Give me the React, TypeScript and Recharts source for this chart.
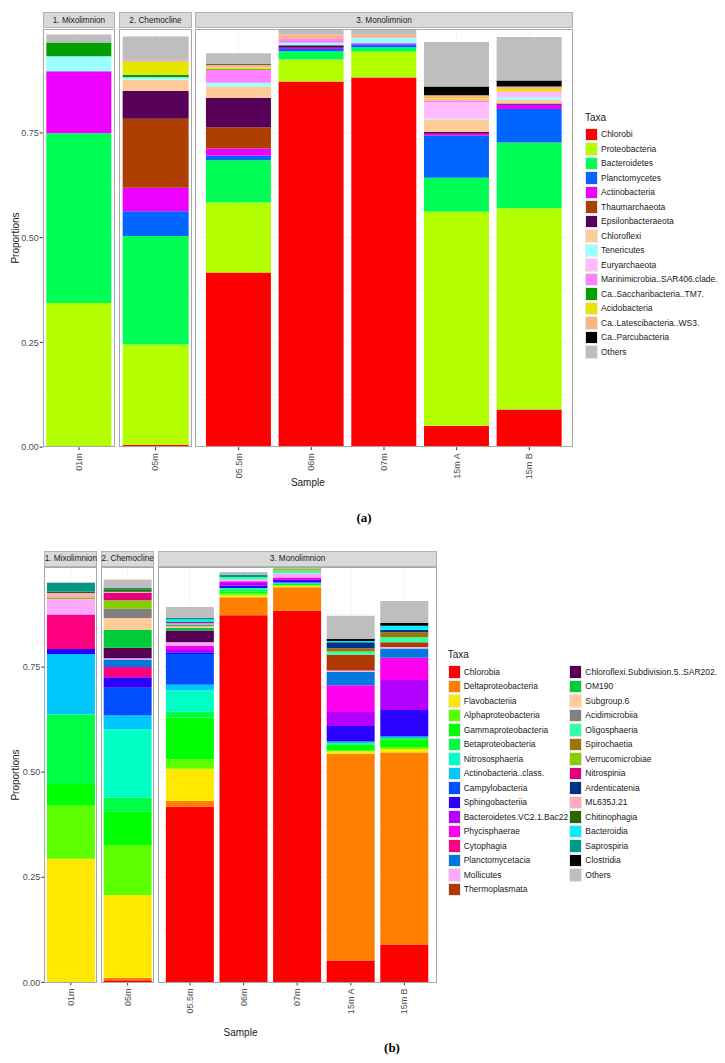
import React from 'react';
import { BarChart, Bar, XAxis, YAxis, CartesianGrid } from 'recharts';

const FONT = '"Liberation Sans", Arial, Helvetica, sans-serif';

const samples = ['01m', '05m', '05.5m', '06m', '07m', '15m A', '15m B'];
const zones = ['1. Mixolimnion', '2. Chemocline', '3. Monolimnion'];
const yTicks = [0, 0.25, 0.5, 0.75];
const gridValues = [0.125, 0.25, 0.375, 0.5, 0.625, 0.75, 0.875];

// ---------- (a) phylum level ----------
const taxaA = [
  'Chlorobi', 'Proteobacteria', 'Bacteroidetes', 'Planctomycetes', 'Actinobacteria',
  'Thaumarchaeota', 'Epsilonbacteraeota', 'Chloroflexi', 'Tenericutes', 'Euryarchaeota',
  'Marinimicrobia..SAR406.clade.', 'Ca..Saccharibacteria..TM7.', 'Acidobacteria',
  'Ca..Latescibacteria..WS3.', 'Ca..Parcubacteria', 'Others',
];
const colorsA = [
  '#FF0000', '#B3FF00', '#00FF55', '#0066FF', '#EE00FF',
  '#AE3F00', '#560058', '#FFCC99', '#99FFFF', '#FFBBFF',
  '#FF80FF', '#00A000', '#E6E600', '#FFB380', '#000000', '#BEBEBE',
];
// proportions per sample, in taxaA order
const a01m = [0, 0.344, 0.405, 0, 0.148, 0, 0, 0, 0.036, 0, 0, 0.033, 0, 0, 0, 0.019];
const a05m = [0.006, 0.239, 0.259, 0.059, 0.056, 0.165, 0.066, 0.027, 0.006, 0, 0, 0.006, 0.030, 0.003, 0, 0.058];
const a055m = [0.417, 0.167, 0.101, 0.011, 0.017, 0.050, 0.071, 0.027, 0.009, 0, 0.030, 0.002, 0.004, 0.006, 0.002, 0.026];
const a06m = [0.873, 0.052, 0.020, 0.005, 0.003, 0, 0.006, 0, 0.006, 0, 0.010, 0, 0, 0.009, 0, 0.014];
const a07m = [0.882, 0.062, 0.010, 0.007, 0.003, 0, 0, 0, 0.013, 0, 0, 0, 0, 0.007, 0, 0.014];
const a15mA = [0.051, 0.511, 0.081, 0.100, 0.005, 0, 0.004, 0.030, 0.002, 0.040, 0.004, 0, 0.004, 0.008, 0.021, 0.106];
const a15mB = [0.090, 0.480, 0.157, 0.080, 0.010, 0, 0.003, 0.009, 0.006, 0.012, 0.002, 0, 0.006, 0.006, 0.014, 0.104];

// ---------- (b) class level ----------
const taxaB = [
  'Chlorobia', 'Deltaproteobacteria', 'Flavobacteriia', 'Alphaproteobacteria', 'Gammaproteobacteria',
  'Betaproteobacteria', 'Nitrososphaeria', 'Actinobacteria..class.', 'Campylobacteria', 'Sphingobacteriia',
  'Bacteroidetes.VC2.1.Bac22', 'Phycisphaerae', 'Cytophagia', 'Planctomycetacia', 'Mollicutes',
  'Thermoplasmata', 'Chloroflexi.Subdivision.5..SAR202.', 'OM190', 'Subgroup.6', 'Acidimicrobiia',
  'Oligosphaeria', 'Spirochaetia', 'Verrucomicrobiae', 'Nitrospinia', 'Ardenticatenia',
  'ML635J.21', 'Chitinophagia', 'Bacteroidia', 'Saprospiria', 'Clostridia', 'Others',
];
const colorsB = [
  '#FF0000', '#FF7F00', '#FFE800', '#5CFF00', '#00FF00',
  '#00FF44', '#00FFC4', '#00C8FF', '#0050FF', '#2A00FF',
  '#B400FF', '#FF00EE', '#FF0080', '#0078DC', '#FFA8FF',
  '#AE3A00', '#550055', '#00CC3A', '#FFCC99', '#808080',
  '#33FFAA', '#9B7700', '#88CC00', '#E0007F', '#003388',
  '#FFAAC0', '#2A6600', '#00F0FF', '#009988', '#000000', '#BEBEBE',
];
const b01m = [0, 0, 0.294, 0.126, 0.052, 0.165, 0, 0.144, 0, 0.012,
  0, 0, 0.082, 0, 0.037, 0, 0, 0, 0, 0,
  0, 0, 0.004, 0, 0, 0.010, 0.004, 0, 0.020, 0, 0.002];
const b05m = [0.005, 0.006, 0.197, 0.119, 0.079, 0.033, 0.163, 0.033, 0.066, 0.025,
  0, 0, 0.024, 0.018, 0.003, 0, 0.025, 0.042, 0.029, 0.022,
  0, 0, 0.020, 0.017, 0, 0.003, 0.006, 0, 0.003, 0, 0.020];
const b055m = [0.418, 0.014, 0.076, 0.023, 0.099, 0.014, 0.050, 0.014, 0.073, 0.004,
  0.008, 0.007, 0, 0, 0.009, 0, 0.028, 0.006, 0.004, 0.004,
  0.003, 0, 0, 0.003, 0, 0, 0, 0.006, 0.004, 0, 0.026];
const b06m = [0.873, 0.043, 0.005, 0.004, 0.005, 0.005, 0.003, 0, 0, 0.006,
  0.006, 0.004, 0, 0, 0.004, 0, 0, 0, 0, 0,
  0.006, 0, 0, 0, 0, 0, 0, 0, 0.006, 0, 0.006];
const b07m = [0.884, 0.056, 0.004, 0, 0.004, 0, 0, 0.003, 0, 0.006,
  0, 0.006, 0, 0, 0.010, 0, 0, 0, 0, 0,
  0.006, 0, 0.004, 0, 0, 0, 0, 0, 0, 0, 0.004];
const b15mA = [0.052, 0.492, 0.005, 0.004, 0.012, 0.004, 0, 0.004, 0, 0.037,
  0.033, 0.064, 0, 0.032, 0.003, 0.037, 0, 0, 0, 0,
  0.008, 0.008, 0, 0, 0.014, 0, 0, 0.003, 0, 0.005, 0.055];
const b15mB = [0.090, 0.457, 0.008, 0.005, 0.017, 0.004, 0, 0.004, 0, 0.063,
  0.071, 0.053, 0, 0.022, 0.004, 0.011, 0, 0, 0, 0,
  0.012, 0.012, 0, 0, 0.006, 0, 0, 0.009, 0, 0.007, 0.052];

const buildRows = (cols: number[][]) =>
  samples.map((s, i) => {
    const row: Record<string, string | number> = { sample: s };
    cols[i].forEach((v, j) => { row['k' + j] = v; });
    return row;
  });

const rowsA = buildRows([a01m, a05m, a055m, a06m, a07m, a15mA, a15mB]);
const rowsB = buildRows([b01m, b05m, b055m, b06m, b07m, b15mA, b15mB]);

type Panel = { left: number; right: number; pad: number; from: number; to: number };
type FigSpec = {
  stripTop: number; panelTop: number; panelBottom: number; yMax: number;
  panels: Panel[]; sampleY: number; caption: string; captionX: number; captionY: number;
  legendX: number[]; legendTitleY: number; legendRowY: number; legendSplit: number;
};

const figA: FigSpec = {
  stripTop: 12, panelTop: 28.5, panelBottom: 446.7, yMax: 0.998,
  panels: [
    { left: 42.7, right: 115.3, pad: 0, from: 0, to: 1 },
    { left: 119, right: 192, pad: 0, from: 1, to: 2 },
    { left: 195, right: 573, pad: 7.3, from: 2, to: 7 },
  ],
  sampleY: 483, caption: '(a)', captionX: 364, captionY: 518,
  legendX: [585], legendTitleY: 118, legendRowY: 127, legendSplit: 99,
};

const figB: FigSpec = {
  stripTop: 550.7, panelTop: 567.3, panelBottom: 982.7, yMax: 0.988,
  panels: [
    { left: 44.3, right: 97.3, pad: 0, from: 0, to: 1 },
    { left: 101, right: 154.3, pad: 0, from: 1, to: 2 },
    { left: 158.3, right: 436.7, pad: 5.2, from: 2, to: 7 },
  ],
  sampleY: 1033, caption: '(b)', captionX: 392, captionY: 1048,
  legendX: [447.7, 569.3], legendTitleY: 655, legendRowY: 664.5, legendSplit: 16,
};

const XTick = (props: any) => {
  const { x, y, payload } = props;
  return (
    <text x={x} y={y + 1} transform={`rotate(-90, ${x}, ${y + 1})`} textAnchor="end"
      dominantBaseline="central" fontSize={9} fill="#4D4D4D" fontFamily={FONT}>
      {payload.value}
    </text>
  );
};

const TaxaLegend = ({ spec, taxa, colors }: { spec: FigSpec; taxa: string[]; colors: string[] }) => (
  <>
    <div style={{ position: 'absolute', left: spec.legendX[0], top: spec.legendTitleY - 6, fontSize: 10, lineHeight: '12px', color: '#1A1A1A' }}>Taxa</div>
    {taxa.map((t, i) => {
      const col = i < spec.legendSplit ? 0 : 1;
      const row = col === 0 ? i : i - spec.legendSplit;
      const top = spec.legendRowY + row * 14.5;
      return (
        <div key={t} style={{ position: 'absolute', left: spec.legendX[col], top, height: 14.5, display: 'flex', alignItems: 'center', whiteSpace: 'nowrap' }}>
          <div style={{ width: 13, height: 13.5, background: colors[i], boxSizing: 'border-box', border: '0.5px solid #E8E8E8' }} />
          <span style={{ marginLeft: 3, fontSize: 8.5, color: '#1A1A1A' }}>{t}</span>
        </div>
      );
    })}
  </>
);

const Figure = ({ spec, rows, taxa, colors }: { spec: FigSpec; rows: any[]; taxa: string[]; colors: string[] }) => {
  const ph = spec.panelBottom - spec.panelTop;
  const first = spec.panels[0];
  const last = spec.panels[spec.panels.length - 1];
  return (
    <>
      {spec.panels.map((p, i) => {
        const w = p.right - p.left;
        const chartLeft = i === 0 ? 0 : p.left;
        const chartWidth = i === 0 ? p.right : w;
        return (
          <React.Fragment key={i}>
            <div style={{
              position: 'absolute', left: p.left, top: spec.stripTop, width: w, height: spec.panelTop - spec.stripTop - 0.5,
              background: '#D9D9D9', boxSizing: 'border-box', border: '0.6px solid #B3B3B3',
              display: 'flex', alignItems: 'center', justifyContent: 'center', fontSize: 8.2, color: '#1A1A1A',
              whiteSpace: 'nowrap', overflow: 'visible',
            }}>{zones[i]}</div>
            <div style={{ position: 'absolute', left: chartLeft, top: spec.panelTop }}>
              <BarChart width={chartWidth} height={ph + 44} data={rows.slice(p.from, p.to)}
                margin={{ top: 0, right: 0, bottom: 0, left: 0 }} barCategoryGap="5%">
                <CartesianGrid stroke="#EDEDED" strokeWidth={0.6} horizontalValues={gridValues} />
                <XAxis dataKey="sample" interval={0} height={44} tickSize={3} tickMargin={2}
                  axisLine={false} tickLine={{ stroke: '#333333' }} padding={{ left: p.pad, right: p.pad }}
                  tick={<XTick />} />
                {i === 0 ? (
                  <YAxis width={first.left} domain={[0, spec.yMax]} allowDataOverflow ticks={yTicks}
                    tickFormatter={(v: number) => v.toFixed(2)} axisLine={false} tickSize={3} tickMargin={1}
                    tickLine={{ stroke: '#333333' }} tick={{ fontSize: 9, fill: '#4D4D4D', fontFamily: FONT }} />
                ) : (
                  <YAxis hide domain={[0, spec.yMax]} allowDataOverflow ticks={yTicks} />
                )}
                {taxa.map((t, j) => (
                  <Bar key={t} dataKey={'k' + j} name={t} stackId="s" fill={colors[j]} isAnimationActive={false} />
                ))}
              </BarChart>
            </div>
            <div style={{
              position: 'absolute', left: p.left, top: spec.panelTop, width: w, height: ph,
              boxSizing: 'border-box', border: '0.8px solid #A8A8A8', pointerEvents: 'none',
            }} />
          </React.Fragment>
        );
      })}
      <div style={{
        position: 'absolute', left: 16 - 40, top: (spec.panelTop + spec.panelBottom) / 2 - 6, width: 80, textAlign: 'center',
        transform: 'rotate(-90deg)', fontSize: 10, lineHeight: '12px', color: '#1A1A1A',
      }}>Proportions</div>
      <div style={{
        position: 'absolute', left: (first.left + last.right) / 2 - 40, top: spec.sampleY - 6, width: 80, textAlign: 'center',
        fontSize: 10, lineHeight: '12px', color: '#1A1A1A',
      }}>Sample</div>
      <TaxaLegend spec={spec} taxa={taxa} colors={colors} />
      <div style={{
        position: 'absolute', left: spec.captionX - 20, top: spec.captionY - 8, width: 40, textAlign: 'center',
        fontFamily: '"Liberation Serif", "Times New Roman", serif', fontWeight: 'bold', fontSize: 13, lineHeight: '16px', color: '#000',
      }}>{spec.caption}</div>
    </>
  );
};

export default function App() {
  return (
    <div style={{ position: 'absolute', left: 0, top: 0, width: 725, height: 1063, background: '#FFFFFF', fontFamily: FONT }}>
      <Figure spec={figA} rows={rowsA} taxa={taxaA} colors={colorsA} />
      <Figure spec={figB} rows={rowsB} taxa={taxaB} colors={colorsB} />
    </div>
  );
}
